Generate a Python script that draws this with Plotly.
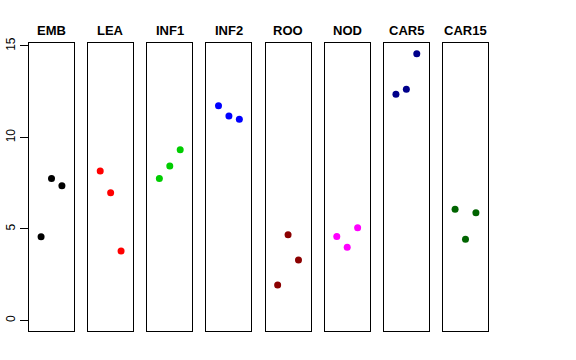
import plotly.graph_objects as go
from plotly.subplots import make_subplots

groups = ["EMB", "LEA", "INF1", "INF2", "ROO", "NOD", "CAR5", "CAR15"]
colors = ["#000000", "#FF0000", "#00CD00", "#0000FF", "#8B0000", "#FF00FF", "#00008B", "#006400"]
x_pos = [1, 2, 3]
values = {
    "EMB":   [4.57, 7.76, 7.36],
    "LEA":   [8.16, 6.98, 3.79],
    "INF1":  [7.76, 8.44, 9.33],
    "INF2":  [11.73, 11.17, 10.99],
    "ROO":   [1.93, 4.68, 3.30],
    "NOD":   [4.59, 3.99, 5.06],
    "CAR5":  [12.36, 12.63, 14.58],
    "CAR15": [6.07, 4.43, 5.88],
}
y_ticks = [0, 5, 10, 15]

W, H = 576, 360
ml, mr, mt, mb = 29, 88, 43, 29
plot_w = W - ml - mr
plot_h = H - mt - mb
gap = 14.14 / plot_w

fig = make_subplots(rows=1, cols=8, shared_yaxes=True, horizontal_spacing=gap)

ymin = 0
ymax = max(max(v) for v in values.values())
pad = 0.04 * (ymax - ymin)
yr = [ymin - pad, ymax + pad]

for i, (g, c) in enumerate(zip(groups, colors)):
    fig.add_trace(go.Scatter(x=x_pos, y=values[g], mode="markers",
                             marker=dict(color=c, size=7),
                             showlegend=False), row=1, col=i + 1)
    fig.update_xaxes(range=[-0.16, 4.16], showticklabels=False, ticks="",
                     showgrid=False, zeroline=False, showline=True,
                     linecolor="#000000", linewidth=1, mirror=True,
                     automargin=False, row=1, col=i + 1)
    fig.update_yaxes(range=yr, showgrid=False, zeroline=False, showline=True,
                     linecolor="#000000", linewidth=1, mirror=True,
                     automargin=False, row=1, col=i + 1)

fig.update_yaxes(tickvals=y_ticks, ticks="outside", ticklen=8, tickcolor="#000000",
                 tickangle=-90, tickfont=dict(size=12, color="#000000", family="Liberation Sans"),
                 row=1, col=1)

annotations = []
title_y = (H - mb - 30) / plot_h
for i, g in enumerate(groups):
    xa = fig.layout["xaxis" if i == 0 else f"xaxis{i+1}"]
    d = xa.domain
    annotations.append(dict(text="<b>" + g + "</b>", x=(d[0] + d[1]) / 2, xref="paper",
                            y=title_y, yref="paper", showarrow=False,
                            xanchor="center", yanchor="middle",
                            font=dict(size=13, color="#000000", family="Liberation Sans")))
fig.update_layout(annotations=annotations)

fig.update_layout(width=W, height=H, margin=dict(l=ml, r=mr, t=mt, b=mb, autoexpand=False),
                  paper_bgcolor="white", plot_bgcolor="white",
                  font=dict(family="Liberation Sans"))

fig.write_html("out.html", config={"displayModeBar": False},
               post_script="document.body.style.margin='0';document.body.style.overflow='hidden';")
